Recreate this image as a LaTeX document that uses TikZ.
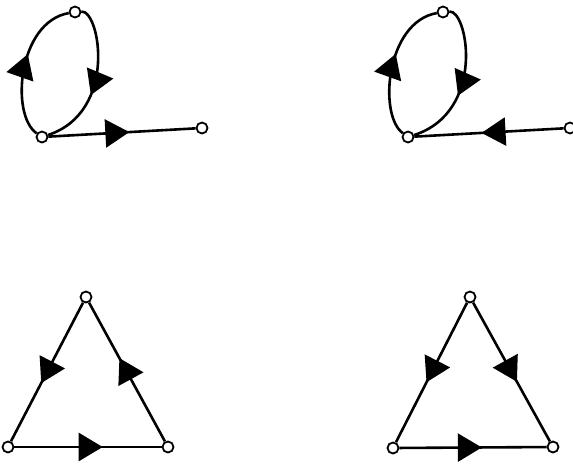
\documentclass[tikz,border=0pt]{standalone}
\usetikzlibrary{arrows.meta,decorations.markings}
\begin{document}
\begin{tikzpicture}[x=1pt,y=-1pt,
  vtx/.style={circle,draw,fill=white,line width=1.8pt,inner sep=0pt,minimum size=11pt},
  edge/.style={line width=2.6pt},
  midarrow/.style={postaction={decorate},decoration={markings,mark=at position #1 with {\arrow{Triangle[length=24pt,width=28pt]}}}}]
\useasboundingbox (0,0) rectangle (573,466);
% figure 1
\node[vtx] (t1) at (75,12) {};
\node[vtx] (b1) at (42,137) {};
\node[vtx] (r1) at (202,128) {};
\draw[edge,midarrow=0.58] (b1) .. controls (10,115) and (18,22) .. (t1);
\draw[edge,midarrow=0.6] (t1) .. controls (100,10) and (118,112) .. (b1);
\draw[edge,midarrow=0.55] (b1) -- (r1);
% figure 2
\begin{scope}[xshift=368pt]
\node[vtx] (t2) at (75,12) {};
\node[vtx] (b2) at (40,137) {};
\node[vtx] (r2) at (202,128) {};
\draw[edge,midarrow=0.58] (b2) .. controls (10,115) and (18,22) .. (t2);
\draw[edge,midarrow=0.6] (t2) .. controls (100,10) and (118,112) .. (b2);
\draw[edge,midarrow=0.55] (r2) -- (b2);
\end{scope}
% figure 3
\node[vtx] (t3) at (86,297) {};
\node[vtx] (l3) at (8,447) {};
\node[vtx] (r3) at (168,447) {};
\draw[edge,midarrow=0.58] (t3) -- (l3);
\draw[edge,midarrow=0.6] (l3) -- (r3);
\draw[edge,midarrow=0.6] (r3) -- (t3);
% figure 4
\node[vtx] (t4) at (470,297) {};
\node[vtx] (l4) at (393,448) {};
\node[vtx] (r4) at (553,447) {};
\draw[edge,midarrow=0.57] (t4) -- (l4);
\draw[edge,midarrow=0.57] (t4) -- (r4);
\draw[edge,midarrow=0.56] (l4) -- (r4);
\end{tikzpicture}
\end{document}
